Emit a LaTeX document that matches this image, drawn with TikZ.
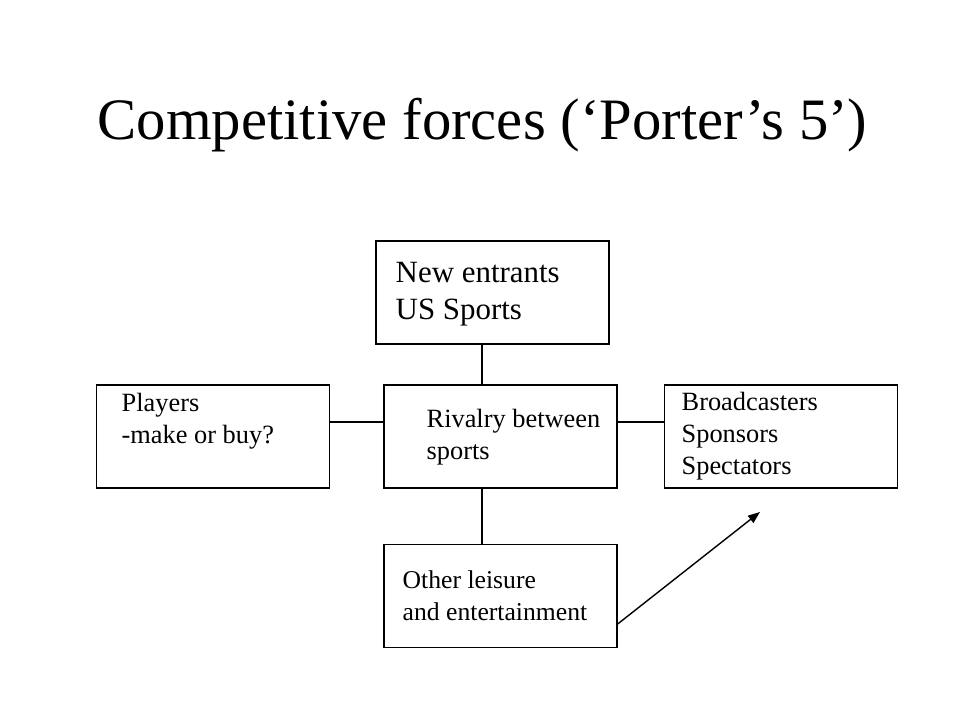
\documentclass[tikz,border=0pt]{standalone}
\usepackage{fontspec}
\setmainfont{Liberation Serif}
\usetikzlibrary{calc, arrows.meta}
\newcommand{\bw}{2.33}
\newcommand{\bh}{1.03}

\begin{document}
\begin{tikzpicture}[
        box/.style={draw, thin, inner sep=0, minimum width=\bw cm, minimum height=\bh cm},
        txt/.style={anchor=west, inner sep=0, align=left, font=\fontsize{7.5}{9.1}\selectfont}
    ]

        \useasboundingbox (0, 0) rectangle (9.6, 7.2);

        \node (title) at (4.825, 5.95) {\fontsize{16.7}{20}\selectfont Competitive forces (‘Porter’s 5’)};

        \node[box] (entr) at (4.925, 4.275) {};
        \node[box] (rival) at (5.005, 2.835) {};
        \node[box] (play) at (2.13, 2.835) {};
        \node[box] (buyr) at (7.81, 2.835) {};
        \node[box] (other) at (5.005, 1.24) {};

        \node[txt, font=\fontsize{8.8}{10.4}\selectfont] (entrtxt) at (3.95, 4.26) {New entrants\\US Sports};
        \node[txt] (rivaltxt) at (4.26, 2.825) {Rivalry between\\sports};
        \node[txt] (playtxt) at (1.21, 2.99) {Players\\-make or buy?};
        \node[txt] (buyrtxt) at (6.81, 2.835) {Broadcasters\\Sponsors\\Spectators};
        \node[txt, font=\fontsize{7.3}{9.1}\selectfont] (othertxt) at (4.02, 1.24) {Other leisure\\and entertainment};

        % connectors
        \coordinate (spine) at (4.82, 2.98);
        \draw[thin] (entr.south -| spine) -- (rival.north -| spine);
        \draw[thin] (rival.south -| spine) -- (other.north -| spine);
        \draw[thin] (play.east |- spine) -- (rival.west |- spine);
        \draw[thin] (rival.east |- spine) -- (buyr.west |- spine);

        \coordinate (tip) at (7.60, 2.08);
        \draw[thin, -{Triangle[length=1.2mm, width=0.9mm]}] ([yshift=-0.28cm]other.east) -- (tip);

    \end{tikzpicture}
\end{document}
